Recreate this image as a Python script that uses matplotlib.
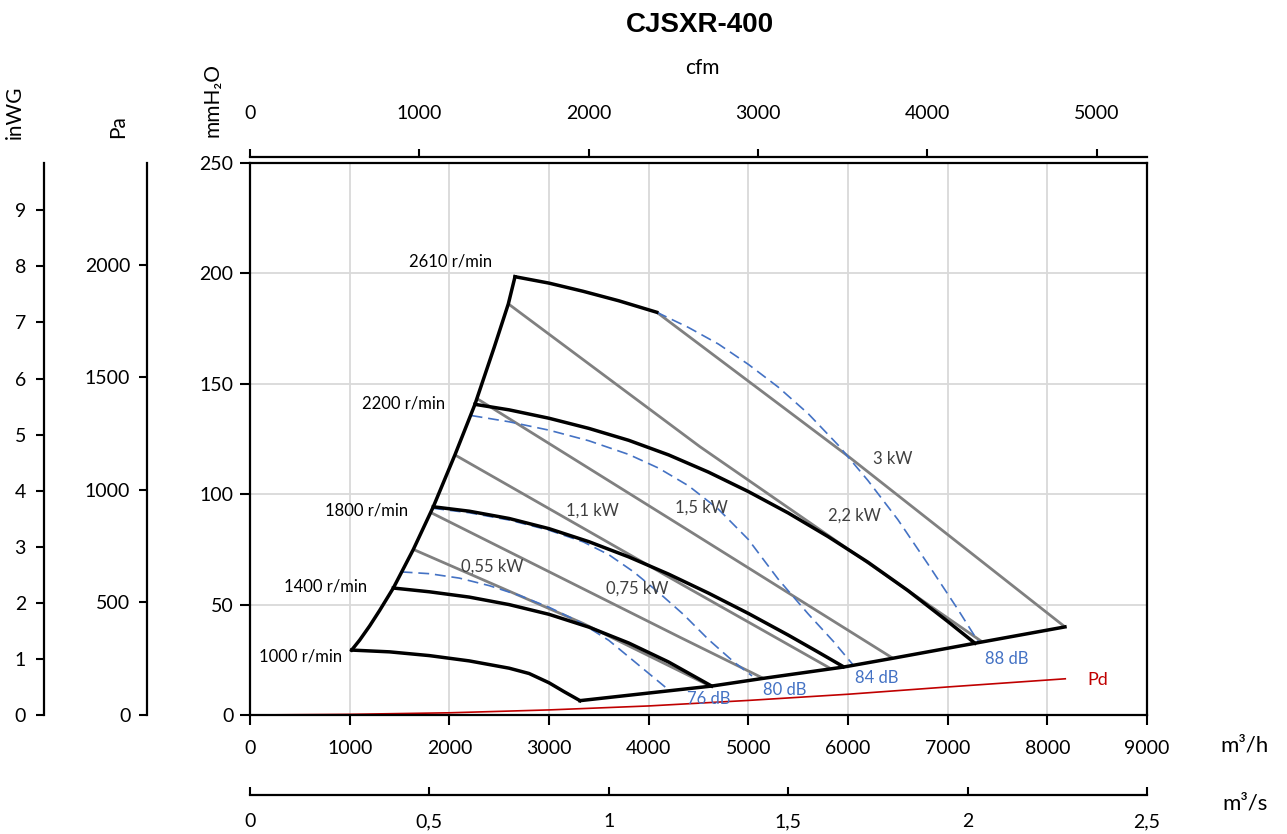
import matplotlib
matplotlib.use("Agg")
import matplotlib.pyplot as plt

plt.rcParams['font.family'] = ['Lato', 'DejaVu Sans']

# ---- data (m3/h, mmH2O) ----
# fan speed curves
q_1000 = [1020, 1400, 1800, 2200, 2600, 2800, 3000, 3150, 3311]
p_1000 = [29.4, 28.6, 26.9, 24.5, 21.2, 18.8, 14.6, 10.6, 6.5]
q_1400 = [1438, 1800, 2200, 2600, 3000, 3400, 3800, 4200, 4632]
p_1400 = [57.5, 55.8, 53.4, 50.0, 45.6, 39.8, 32.6, 24.0, 13.1]
q_1800 = [1839, 2200, 2600, 3000, 3400, 3800, 4200, 4600, 5000, 5400, 5700, 5953]
p_1800 = [94.3, 92.3, 89.0, 84.4, 78.5, 71.6, 63.8, 55.2, 46.0, 36.2, 28.5, 21.9]
q_2200 = [2257, 2600, 3000, 3400, 3800, 4200, 4600, 5000, 5400, 5800, 6200, 6600, 7000, 7274]
p_2200 = [140.7, 138.2, 134.4, 129.8, 124.4, 117.8, 110.0, 101.2, 91.5, 80.8, 69.2, 56.4, 42.4, 32.5]
q_2610 = [2659, 3000, 3342, 3700, 4081]
p_2610 = [198.5, 195.6, 191.9, 187.6, 182.4]

# operating area limits
q_left = [1020, 1100, 1200, 1300, 1438, 1522, 1639, 1839, 2056, 2257, 2450, 2592, 2659]
p_left = [29.4, 33.9, 40.3, 47.3, 57.5, 64.8, 75.0, 94.3, 117.8, 140.7, 166.5, 186.2, 198.5]
q_bottom = [3311, 4632, 5150, 5953, 6450, 7274, 8177]
p_bottom = [6.5, 13.1, 16.6, 21.7, 25.7, 32.5, 39.9]

# motor power lines
kw_lines = {
    '0,55 kW': ([1639, 3341, 4595], [75.0, 41.5, 13.6]),
    '0,75 kW': ([1823, 4314, 5150], [91.5, 35.2, 16.6]),
    '1,1 kW': ([2056, 4314, 5819], [117.8, 59.6, 21.2]),
    '1,5 kW': ([2274, 4314, 6450], [143.4, 86.0, 25.7]),
    '2,2 kW': ([2592, 4515, 7344], [186.2, 121.5, 33.2]),
    '3 kW': ([4081, 5987, 8177], [182.4, 117.7, 39.9]),
}

# sound level lines
db_lines = {
    '76 dB': ([1522, 1800, 2100, 2400, 2700, 3000, 3300, 3600, 3900, 4181],
              [64.8, 64.0, 62.0, 58.6, 54.2, 48.8, 42.3, 33.8, 22.6, 12.1]),
    '80 dB': ([1839, 2200, 2600, 3000, 3344, 3600, 3850, 4100, 4350, 4600, 4850, 5037],
              [93.6, 91.6, 88.3, 83.7, 78.4, 72.6, 64.8, 55.5, 45.5, 34.2, 24.2, 17.7]),
    '84 dB': ([2224, 2600, 3000, 3400, 3800, 4100, 4400, 4700, 5000, 5300, 5600, 5850, 6053],
              [135.6, 132.8, 129.0, 124.2, 118.0, 111.8, 103.8, 93.2, 79.5, 61.5, 45.8, 33.5, 22.6]),
    '88 dB': ([4081, 4400, 4700, 5000, 5300, 5600, 5900, 6200, 6500, 6800, 7100, 7307],
              [182.4, 175.5, 168.0, 158.8, 148.5, 136.5, 122.3, 106.2, 88.5, 68.5, 48.0, 33.2]),
}

# dynamic pressure
q_pd = [0, 1000, 2000, 3000, 4000, 5000, 6000, 7000, 8180]
p_pd = [0, 0.3, 1.0, 2.3, 4.1, 6.6, 9.4, 12.7, 16.4]

# label positions
speed_labels = {'2610 r/min': (2017, 205.6), '2200 r/min': (1545, 141.3),
                '1800 r/min': (1174, 92.4), '1400 r/min': (762, 58.4),
                '1000 r/min': (512, 26.3)}
kw_label_pos = {'0,55 kW': (2428, 67.0), '0,75 kW': (3883, 57.1),
                '1,1 kW': (3431, 92.4), '1,5 kW': (4525, 93.8),
                '2,2 kW': (6060, 90.1), '3 kW': (6451, 115.9)}
db_label_pos = {'76 dB': (4605, 7.2), '80 dB': (5368, 11.3),
                '84 dB': (6291, 16.8), '88 dB': (7595, 25.4)}

black = 'black'
grey = '#808080'
blue = '#4472C4'
red = '#C00000'
tick_fs = 14
small_fs = 12

fig = plt.figure(figsize=(12.87, 8.34), dpi=100)
ax = fig.add_axes([250 / 1287, 119 / 834, 897 / 1287, 552 / 834])
ax.set_xlim(0, 9000)
ax.set_ylim(0, 250)

ax.set_xticks(range(0, 9001, 1000))
ax.set_yticks(range(0, 251, 50))
ax.grid(True, color='#D9D9D9', linewidth=1.3)
ax.set_axisbelow(True)
for s in ax.spines.values():
    s.set_linewidth(1.6)
ax.tick_params(axis='x', direction='out', length=7, width=1.5, labelsize=tick_fs, pad=11)
ax.tick_params(axis='y', direction='out', length=7, width=1.5, labelsize=tick_fs, pad=5)

# red dynamic pressure
ax.plot(q_pd, p_pd, color=red, lw=1.2, zorder=2)

# power lines
for name, (q, p) in kw_lines.items():
    ax.plot(q, p, color=grey, lw=2.0, zorder=3, solid_capstyle='butt')

# sound lines
for name, (q, p) in db_lines.items():
    ax.plot(q, p, color=blue, lw=1.2, dashes=(6.5, 3.5), zorder=4)

# speed curves and limits
for q, p in [(q_1000, p_1000), (q_1400, p_1400), (q_1800, p_1800),
             (q_2200, p_2200), (q_2610, p_2610), (q_left, p_left),
             (q_bottom, p_bottom)]:
    ax.plot(q, p, color=black, lw=2.5, zorder=5, solid_joinstyle='round')

for txt, (x, y) in speed_labels.items():
    ax.text(x, y, txt, fontsize=small_fs, color='black', ha='center', va='center')
for txt, (x, y) in kw_label_pos.items():
    ax.text(x, y, txt, fontsize=small_fs, color='#404040', ha='center', va='center', zorder=6)
for txt, (x, y) in db_label_pos.items():
    ax.text(x, y, txt, fontsize=small_fs, color=blue, ha='center', va='center', zorder=6)
ax.text(8508, 15.9, 'Pd', fontsize=small_fs + 1, color=red, ha='center', va='center')

# top cfm axis
top = ax.secondary_xaxis(1 + 6 / 552, functions=(lambda x: x / 1.699, lambda x: x * 1.699))
top.set_xticks(range(0, 5001, 1000))
top.tick_params(direction='out', length=6, width=1.5, labelsize=tick_fs, pad=19)
for s in top.spines.values():
    s.set_linewidth(1.6)

# bottom m3/s axis
bot = ax.secondary_xaxis(-80 / 552, functions=(lambda x: x / 3600, lambda x: x * 3600))
bot.set_xticks([0, 0.5, 1, 1.5, 2, 2.5])
bot.set_xticklabels(['0', '0,5', '1', '1,5', '2', '2,5'])
bot.tick_params(direction='in', length=6, width=1.5, labelsize=tick_fs, pad=13)
for s in bot.spines.values():
    s.set_linewidth(1.6)

# Pa axis
pa = ax.secondary_yaxis(-103 / 897, functions=(lambda y: y * 9.80665, lambda y: y / 9.80665))
pa.set_yticks(range(0, 2001, 500))
pa.tick_params(direction='out', length=6, width=1.5, labelsize=tick_fs, pad=6)
for s in pa.spines.values():
    s.set_linewidth(1.6)

# inWG axis
iw = ax.secondary_yaxis(-206 / 897, functions=(lambda y: y / 25.4, lambda y: y * 25.4))
iw.set_yticks(range(0, 10))
iw.tick_params(direction='out', length=6, width=1.5, labelsize=tick_fs, pad=7)
for s in iw.spines.values():
    s.set_linewidth(1.6)

# titles and unit labels
fig.text(700 / 1287, 1 - 25 / 834, 'CJSXR-400', fontsize=20, fontweight='bold',
         family=['Liberation Sans', 'DejaVu Sans'], ha='center', va='center')
fig.text(702 / 1287, 1 - 68 / 834, 'cfm', fontsize=15, ha='center', va='center')
fig.text(1245 / 1287, 1 - 745 / 834, 'm³/h', fontsize=16, ha='center', va='center')
fig.text(1245 / 1287, 1 - 803 / 834, 'm³/s', fontsize=16, ha='center', va='center')
fig.text(15 / 1287, 1 - 112 / 834, 'inWG', fontsize=15, rotation=90, ha='center', va='center')
fig.text(118 / 1287, 1 - 127 / 834, 'Pa', fontsize=15, rotation=90, ha='center', va='center')
fig.text(213 / 1287, 1 - 100 / 834, 'mmH₂O', fontsize=15, rotation=90, ha='center', va='center')

fig.savefig('out.png', dpi=100)
